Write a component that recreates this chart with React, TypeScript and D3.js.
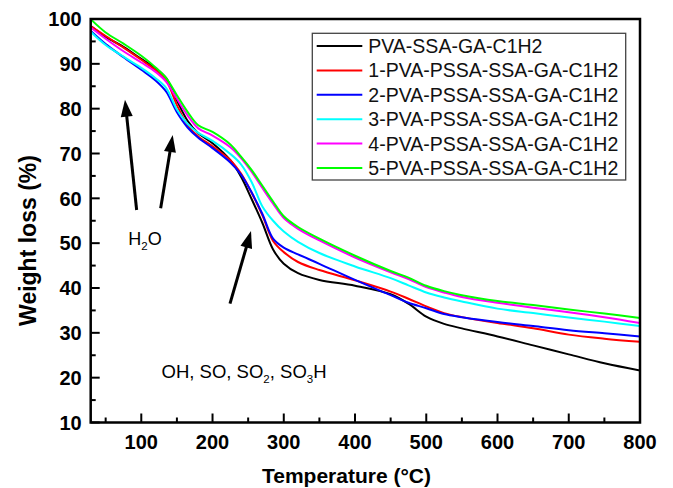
import React from "react";
import * as d3 from "d3";

const temps = [30, 50, 75, 100, 120, 135, 150, 165, 180, 200, 225, 240, 255, 270, 285, 300, 320, 350, 400, 450, 475, 500, 525, 550, 600, 650, 700, 750, 800];

const pvaLoss = [98.3, 96.0, 93.8, 91.1, 89.0, 86.8, 81.8, 77.3, 74.5, 72.3, 68.5, 64.8, 59.8, 54.5, 48.6, 45.4, 43.3, 41.8, 40.5, 38.6, 36.5, 33.6, 32.0, 31.0, 29.2, 27.2, 25.2, 23.2, 21.6];
const s1Loss = [98.3, 96.2, 93.6, 90.9, 88.6, 86.3, 80.8, 76.3, 73.8, 71.6, 68.5, 65.5, 61.2, 56.2, 50.5, 48.0, 45.8, 44.0, 41.7, 39.2, 37.6, 35.9, 34.4, 33.5, 32.2, 31.0, 29.6, 28.7, 28.0];
const s2Loss = [97.2, 94.4, 91.5, 88.7, 86.3, 83.8, 79.2, 75.8, 73.5, 71.2, 68.0, 65.3, 61.3, 56.5, 51.0, 49.0, 47.5, 45.4, 41.8, 38.4, 36.7, 35.5, 34.2, 33.5, 32.4, 31.5, 30.6, 29.9, 29.2];
const s3Loss = [97.0, 94.2, 91.6, 89.1, 86.8, 84.6, 79.8, 76.6, 74.6, 72.8, 69.9, 67.6, 63.6, 58.2, 55.0, 52.6, 50.3, 47.8, 44.8, 42.2, 40.6, 39.0, 37.9, 37.0, 35.4, 34.4, 33.4, 32.5, 31.5];
const s4Loss = [98.0, 95.6, 92.8, 90.3, 88.2, 86.0, 82.2, 78.5, 75.6, 74.0, 71.4, 69.0, 65.9, 62.3, 58.8, 55.6, 53.2, 50.6, 46.8, 43.5, 42.0, 40.2, 39.0, 38.0, 36.7, 35.6, 34.6, 33.5, 32.2];
const s5Loss = [99.8, 97.0, 94.5, 91.8, 89.2, 86.8, 83.0, 79.3, 76.3, 74.8, 72.0, 69.3, 66.3, 62.8, 59.3, 56.0, 53.6, 51.0, 47.2, 43.8, 42.3, 40.5, 39.3, 38.4, 37.1, 36.2, 35.2, 34.3, 33.3];

const seriesNames = [
  "PVA-SSA-GA-C1H2",
  "1-PVA-PSSA-SSA-GA-C1H2",
  "2-PVA-PSSA-SSA-GA-C1H2",
  "3-PVA-PSSA-SSA-GA-C1H2",
  "4-PVA-PSSA-SSA-GA-C1H2",
  "5-PVA-PSSA-SSA-GA-C1H2",
];
const seriesValues = [pvaLoss, s1Loss, s2Loss, s3Loss, s4Loss, s5Loss];
const seriesColors = ["#000000", "#ff0000", "#0000ff", "#00ffff", "#ff00ff", "#00ff00"];

const xMajor = [100, 200, 300, 400, 500, 600, 700, 800];
const xMinor = [50, 150, 250, 350, 450, 550, 650, 750];
const yMajor = [10, 20, 30, 40, 50, 60, 70, 80, 90, 100];
const yMinor = [15, 25, 35, 45, 55, 65, 75, 85, 95];

// annotation arrows: [tailT, tailW, tipT, tipW]
const arrows = [
  [93.5, 57.4, 77.1, 82.0],
  [127.2, 57.8, 144.1, 74.1],
  [224.5, 36.5, 254.0, 52.7],
];

const W = 673;
const H = 488;
const margin = { left: 90.7, right: 33, top: 19, bottom: 65.5 };
const font = "'Liberation Sans', Arial, Helvetica, sans-serif";

export default function App() {
  const x = d3.scaleLinear().domain([29, 800]).range([margin.left, W - margin.right]);
  const y = d3.scaleLinear().domain([10, 100]).range([H - margin.bottom, margin.top]);

  const line = d3
    .line<number>()
    .x((_, i) => x(temps[i]))
    .y((d) => y(d))
    .curve(d3.curveCatmullRom.alpha(0.5));

  const x0 = x.range()[0];
  const x1 = x.range()[1];
  const y0 = y.range()[0];
  const y1 = y.range()[1];

  const legendX = 312.3;
  const legendY = 33.3;
  const rowH = 24.4;

  return (
    <svg
      width={W}
      height={H}
      style={{ position: "absolute", left: 0, top: 0, background: "#fff" }}
      fontFamily={font}
    >
      <defs>
        <clipPath id="plot">
          <rect x={x0} y={y1} width={x1 - x0} height={y0 - y1} />
        </clipPath>
      </defs>

      {/* curves */}
      <g clipPath="url(#plot)">
        {seriesValues.map((vals, i) => (
          <path key={i} d={line(vals) || ""} fill="none" stroke={seriesColors[i]} strokeWidth={2} />
        ))}
      </g>

      {/* ticks (inside) */}
      {xMajor.map((t) => (
        <line key={"xM" + t} x1={x(t)} x2={x(t)} y1={y0} y2={y0 - 9} stroke="#000" strokeWidth={2} />
      ))}
      {xMinor.map((t) => (
        <line key={"xm" + t} x1={x(t)} x2={x(t)} y1={y0} y2={y0 - 5} stroke="#000" strokeWidth={2} />
      ))}
      {yMajor.map((t) => (
        <line key={"yM" + t} x1={x0} x2={x0 + 9} y1={y(t)} y2={y(t)} stroke="#000" strokeWidth={2} />
      ))}
      {yMinor.map((t) => (
        <line key={"ym" + t} x1={x0} x2={x0 + 5} y1={y(t)} y2={y(t)} stroke="#000" strokeWidth={2} />
      ))}

      {/* frame */}
      <rect x={x0} y={y1} width={x1 - x0} height={y0 - y1} fill="none" stroke="#000" strokeWidth={2.5} />

      {/* tick labels */}
      {xMajor.map((t) => (
        <text key={"xl" + t} x={x(t)} y={y0 + 26} textAnchor="middle" fontSize={20} fontWeight="bold">
          {t}
        </text>
      ))}
      {yMajor.map((t) => (
        <text key={"yl" + t} x={x0 - 9} y={y(t)} dy="0.36em" textAnchor="end" fontSize={20} fontWeight="bold">
          {t}
        </text>
      ))}

      {/* axis titles */}
      <text x={346.5} y={482.7} textAnchor="middle" fontSize={21} fontWeight="bold">
        Temperature (°C)
      </text>
      <text
        transform={`translate(36, 240.5) rotate(-90)`}
        textAnchor="middle"
        fontSize={23}
        fontWeight="bold"
      >
        Weight loss (%)
      </text>

      {/* legend */}
      <rect x={legendX} y={legendY} width={313.4} height={146.7} fill="#fff" stroke="#444" strokeWidth={1.3} />
      {seriesNames.map((name, i) => {
        const cy = legendY + 12.7 + i * rowH;
        return (
          <g key={name}>
            <line x1={legendX + 4.4} x2={legendX + 50} y1={cy} y2={cy} stroke={seriesColors[i]} strokeWidth={2} />
            <text x={legendX + 56} y={cy} dy="0.36em" fontSize={19.5} fill="#111">
              {name}
            </text>
          </g>
        );
      })}

      {/* arrows */}
      {arrows.map(([t0, w0, t1, w1], i) => {
        const ax = x(t0), ay = y(w0), bx = x(t1), by = y(w1);
        const len = Math.hypot(bx - ax, by - ay);
        const ux = (bx - ax) / len, uy = (by - ay) / len;
        const hl = 17, hw = 6;
        const baseX = bx - ux * hl, baseY = by - uy * hl;
        const pts = [
          [bx, by],
          [baseX - uy * hw, baseY + ux * hw],
          [baseX + uy * hw, baseY - ux * hw],
        ];
        return (
          <g key={"a" + i}>
            <line x1={ax} y1={ay} x2={baseX + ux * 2} y2={baseY + uy * 2} stroke="#000" strokeWidth={3} />
            <polygon points={pts.map((p) => p.join(",")).join(" ")} fill="#000" />
          </g>
        );
      })}

      {/* annotation labels */}
      <text x={x(81.8)} y={y(49.6)} fontSize={18}>
        H<tspan fontSize={11.5} dy={5}>2</tspan>
        <tspan dy={-5}>O</tspan>
      </text>
      <text x={x(128.5)} y={y(19.9)} fontSize={18.5}>
        OH, SO, SO<tspan fontSize={11.5} dy={5}>2</tspan>
        <tspan dy={-5}>, SO</tspan>
        <tspan fontSize={11.5} dy={5}>3</tspan>
        <tspan dy={-5}>H</tspan>
      </text>
    </svg>
  );
}
